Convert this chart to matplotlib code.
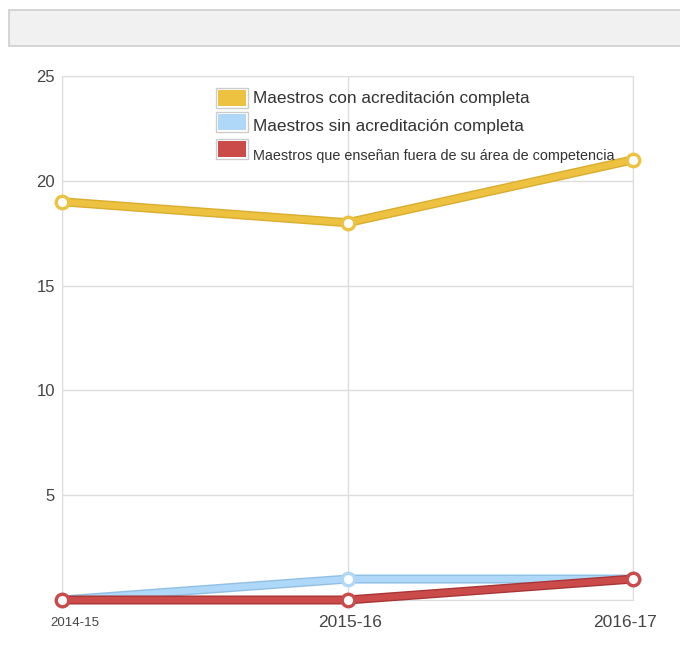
import matplotlib.pyplot as plt
import matplotlib.transforms as mtransforms
from matplotlib.patches import Rectangle, FancyBboxPatch

plt.rcParams['font.family'] = ['Liberation Sans', 'DejaVu Sans']

years = ['2014-15', '2015-16', '2016-17']
con_acred = [19, 18, 21]
sin_acred = [0, 1, 1]
fuera_area = [0, 0, 1]
series_names = ['Maestros con acreditación completa',
                'Maestros sin acreditación completa',
                'Maestros que enseñan fuera de su área de competencia']
colors = ['#edc240', '#afd8f8', '#cb4b4b']
edges = ['#d9ad2e', '#8fbfe6', '#a83636']

W, H = 680, 655
fig = plt.figure(figsize=(W / 100, H / 100), dpi=100)

# grey header bar
fig.patches.append(FancyBboxPatch((9 / W, 1 - 46 / H), 690 / W, 36 / H,
                                  boxstyle='square,pad=0', transform=fig.transFigure,
                                  facecolor='#f1f1f1', edgecolor='#cfcfcf', lw=1.2))

ax = fig.add_axes([62 / W, 1 - 600 / H, (633 - 62) / W, (600 - 76) / H])
x = range(len(years))
for vals, c, ec in zip([con_acred, sin_acred, fuera_area], colors, edges):
    ax.plot(x, vals, color=ec, lw=6.5, solid_capstyle='round', zorder=3, clip_on=False)
    ax.plot(x, vals, color=c, lw=4.5, solid_capstyle='round', zorder=3, clip_on=False,
            marker='o', ms=9, mfc='white', mec=c, mew=2.4)

ax.set_xlim(0, 2)
ax.set_ylim(0, 25)
ax.set_yticks([0, 5, 10, 15, 20, 25])
ax.set_yticklabels(['', '5', '10', '15', '20', '25'])
ax.set_xticks(list(x))
ax.set_xticklabels(years)
ax.tick_params(length=0, colors='#444444', pad=5)
ax.tick_params(axis='x', pad=11)
for t in ax.get_yticklabels():
    t.set_fontsize(12)
xl = ax.get_xticklabels()
xl[0].set_fontsize(9.5)
xl[0].set_fontstretch('condensed')
xl[0].set_ha('left')
xl[0].set_transform(xl[0].get_transform() + mtransforms.ScaledTranslation(-12 / 100, -2 / 100, fig.dpi_scale_trans))
for t in xl[1:]:
    t.set_fontsize(12.5)
xl[1].set_transform(xl[1].get_transform() + mtransforms.ScaledTranslation(3 / 100, 0, fig.dpi_scale_trans))
xl[2].set_transform(xl[2].get_transform() + mtransforms.ScaledTranslation(-8 / 100, 0, fig.dpi_scale_trans))
ax.grid(True, color='#dddddd', lw=1)
for s in ax.spines.values():
    s.set_color('#dddddd')
ax.set_axisbelow(True)

# legend
leg_sizes = [12.4, 12.4, 10.4]
leg_tops = [88, 112, 139]
leg_text_y = [98, 126, 156]
for name, c, fs, ytop, ty in zip(series_names, colors, leg_sizes, leg_tops, leg_text_y):
    fig.patches.append(Rectangle((216 / W, 1 - (ytop + 20) / H), 32 / W, 20 / H,
                                 transform=fig.transFigure, facecolor='white',
                                 edgecolor='#cccccc', lw=1))
    fig.patches.append(Rectangle((218 / W, 1 - (ytop + 18) / H), 28 / W, 16 / H,
                                 transform=fig.transFigure, facecolor=c, edgecolor='none'))
    fig.text(253 / W, 1 - ty / H, name, fontsize=fs, color='#333333',
             va='center', ha='left')

fig.savefig('out.png', dpi=100)
